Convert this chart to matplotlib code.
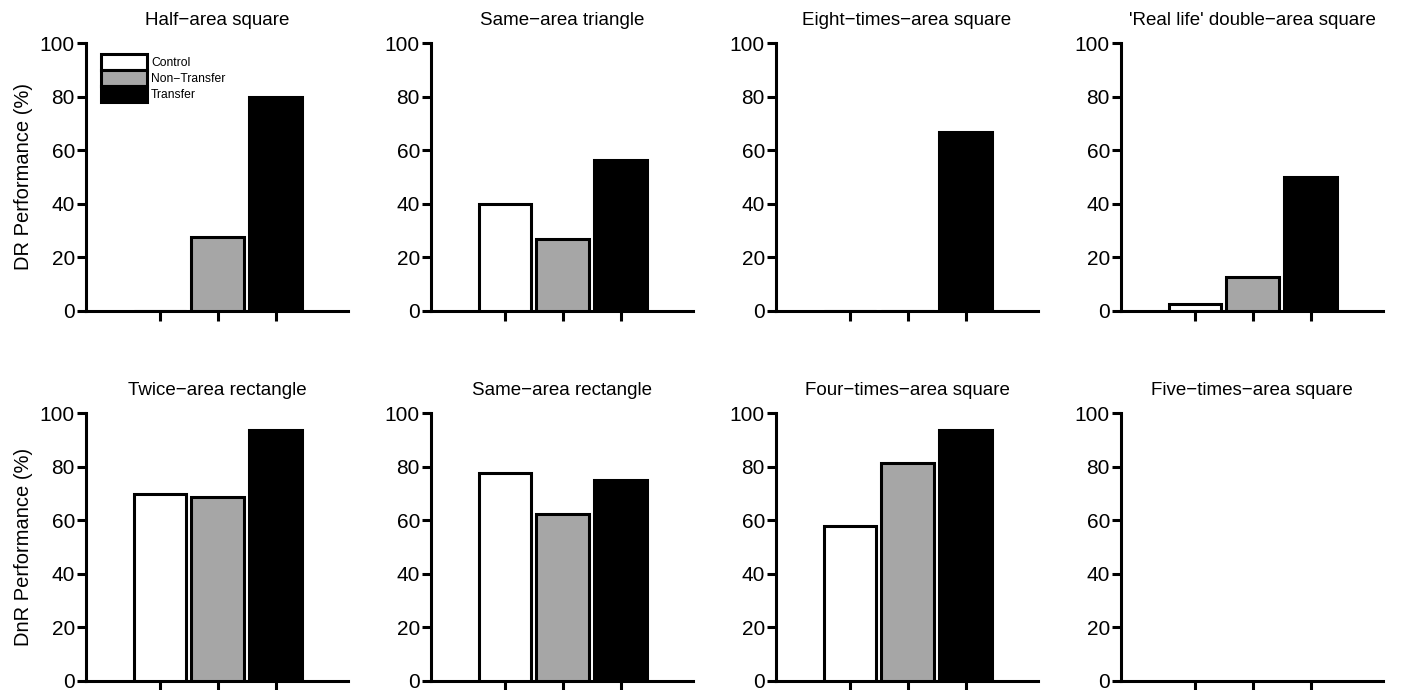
import numpy as np
import matplotlib
matplotlib.use('Agg')
import matplotlib.pyplot as plt

plt.rcParams['font.family'] = ['Liberation Sans', 'DejaVu Sans']

GROUPS = ['Control', 'Non\u2212Transfer', 'Transfer']
COLOURS = ['white', '#a6a6a6', 'black']

TITLES_DR = ['Half\u2212area square', 'Same\u2212area triangle',
             'Eight\u2212times\u2212area square', "'Real life' double\u2212area square"]
TITLES_DNR = ['Twice\u2212area rectangle', 'Same\u2212area rectangle',
              'Four\u2212times\u2212area square', 'Five\u2212times\u2212area square']

# percent correct per group (Control, Non-Transfer, Transfer); None = no bars
half_area_square = [0, 27.5, 80.0]
same_area_triangle = [40.0, 26.7, 56.3]
eight_times_square = [0, 0, 66.7]
real_life_square = [2.5, 12.5, 50.0]
twice_area_rect = [70.0, 68.8, 93.8]
same_area_rect = [77.8, 62.5, 75.0]
four_times_square = [57.7, 81.3, 93.8]
five_times_square = None

DR_VALUES = [half_area_square, same_area_triangle, eight_times_square, real_life_square]
DNR_VALUES = [twice_area_rect, same_area_rect, four_times_square, five_times_square]

W, H = 1403, 690
fig = plt.figure(figsize=(W / 100, H / 100), dpi=100)

col_left = [86, 431, 776, 1121]
ax_w = 262
row_top = [43.3, 413.3]
ax_h = 267.4

x = np.arange(1, 4)


def draw_panel(ax, vals, title, ylabel=None, legend=False):
    if vals is not None:
        bars = ax.bar(x, vals, width=0.9, color=COLOURS, edgecolor='black',
                      linewidth=2.2, zorder=3)
        if legend:
            ax.legend(bars, GROUPS, loc='upper left', bbox_to_anchor=(0.057, 0.96),
                      frameon=False, fontsize=8.7, handlelength=3.8, handleheight=1.65,
                      labelspacing=0.0, handletextpad=0.35, borderpad=0,
                      borderaxespad=0)
    ax.set_xlim(-0.27, 4.25)
    ax.set_ylim(0, 100)
    ax.set_yticks([0, 20, 40, 60, 80, 100])
    ax.set_xticks(x)
    ax.set_xticklabels([])
    for s in ['top', 'right']:
        ax.spines[s].set_visible(False)
    for s in ['left', 'bottom']:
        ax.spines[s].set_linewidth(2.2)
    ax.tick_params(axis='y', length=6.5, width=2.2, labelsize=15, pad=1.5)
    ax.tick_params(axis='x', length=7, width=2.2)
    ax.set_title(title, fontsize=13.5, pad=13)
    if ylabel:
        ax.set_ylabel(ylabel, fontsize=14.5, labelpad=5)


for r, (titles, values, ylab) in enumerate([(TITLES_DR, DR_VALUES, 'DR Performance (%)'),
                                            (TITLES_DNR, DNR_VALUES, 'DnR Performance (%)')]):
    for c in range(4):
        left = col_left[c] / W
        bottom = 1 - (row_top[r] + ax_h) / H
        ax = fig.add_axes([left, bottom, ax_w / W, ax_h / H])
        ax.patch.set_visible(False)
        draw_panel(ax, values[c], titles[c], ylab if c == 0 else None,
                   legend=(r == 0 and c == 0))

fig.savefig('out.png', dpi=100)
